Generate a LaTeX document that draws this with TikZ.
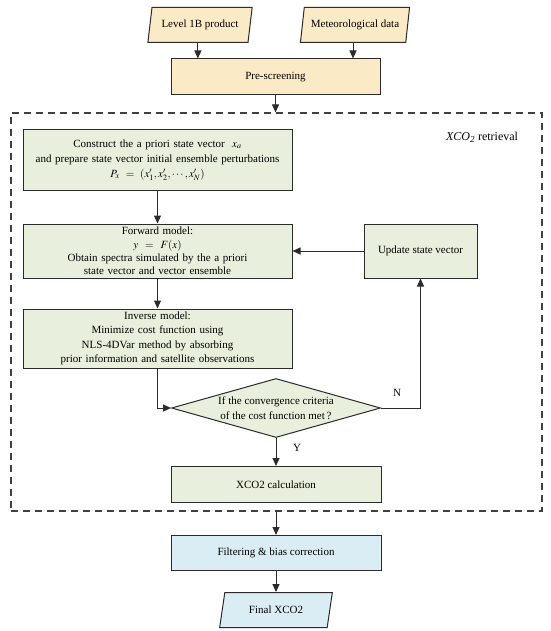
\documentclass[tikz,border=0pt]{standalone}
\usepackage{mathptmx}
\usepackage{fontspec}
\setmainfont{Liberation Serif}
\usetikzlibrary{positioning,shapes.geometric,arrows.meta}
\definecolor{boxline}{HTML}{2B2B2B}
\definecolor{inorange}{HTML}{FBEAC6}
\definecolor{procgreen}{HTML}{E8EFDC}
\definecolor{outblue}{HTML}{DBEDF4}
\begin{document}
\begin{tikzpicture}[
  x=1pt, y=1pt,
  font=\fontsize{11}{15}\selectfont,
  procbox/.style={draw=boxline, line width=1pt, fill=procgreen, align=center, inner xsep=4pt, inner ysep=1pt},
  iobox/.style={draw=boxline, line width=1pt, trapezium, trapezium left angle=76, trapezium right angle=104,
    trapezium stretches=true, minimum height=35pt, inner sep=2pt},
  decbox/.style={draw=boxline, line width=1pt, fill=procgreen, diamond, aspect=3.5, inner sep=0pt,
    minimum width=209pt, minimum height=59pt, align=center},
  lbl/.style={inner sep=1pt},
  arrow/.style={-{Triangle[length=8pt,width=7pt]}, line width=1pt, draw=boxline}
]
\useasboundingbox (0,0) rectangle (550,-631);
\node (frame) [draw=boxline!90, line width=1.2pt, dash pattern=on 7pt off 5pt,
  minimum width=531pt, minimum height=398pt, inner sep=0pt] at (276.5,-312) {};
\node (l1b) [iobox, fill=inorange, minimum width=105pt] at (200,-25) {Level 1B product};
\node (met) [iobox, fill=inorange, minimum width=110pt] at (355,-25) {Meteorological data};
\node (pre) [procbox, fill=inorange, minimum width=209pt, minimum height=36pt] at (275.5,-77) {Pre-screening};
\node (ret) [lbl, font=\fontsize{12}{14}\selectfont] at (482,-137) {\textit{XCO}\textsubscript{\textit{2}} retrieval};
\node (cons) [procbox, text width=261pt, minimum height=60pt] at (157.5,-160)
  {Construct the a priori state vector\ \ $x_a$\\ and prepare state vector initial ensemble perturbations\\ $P_x=(x'_1,x'_2,\cdots,x'_N)$};
\node (fwd) [procbox, text width=261pt, minimum height=54pt, font=\fontsize{11}{13.3}\selectfont, below=33pt of cons]
  {Forward model:\\ $y=F(x)$\\ Obtain spectra simulated by the a priori\\ state vector and vector ensemble};
\node (upd) [procbox, minimum width=113pt, minimum height=54pt, right=71pt of fwd] {Update state vector};
\node (inv) [procbox, text width=261pt, minimum height=59pt, font=\fontsize{11}{14.5}\selectfont, below=30pt of fwd]
  {Inverse model:\\ Minimize cost function using\\ NLS-4DVar method by absorbing\\ prior information and satellite observations};
\node (dia) [decbox] at (276,-408) {If the convergence criteria\\ of the cost function met\,?};
\node (calc) [procbox, minimum width=210pt, minimum height=36pt, below=28pt of dia] {XCO2 calculation};
\node (filt) [procbox, fill=outblue, minimum width=210pt, minimum height=35pt, below=32pt of calc] {Filtering \& bias correction};
\node (fin) [iobox, fill=outblue, minimum width=113pt, below=21pt of filt] {Final XCO2};
\node (nlab) [lbl] at ([xshift=16pt,yshift=15pt]dia.east) {N};
\node (ylab) [lbl] at ([xshift=21pt,yshift=-10pt]dia.south) {Y};

\draw[arrow] (l1b.bottom side) -- (l1b.bottom side |- pre.north);
\draw[arrow] (met.bottom side) -- (met.bottom side |- pre.north);
\draw[arrow] (pre.south) -- (pre.south |- frame.north);
\draw[arrow] (cons) -- (fwd);
\draw[arrow] (upd) -- (fwd);
\draw[arrow] (fwd) -- (inv);
\draw[arrow] (inv.south) |- (dia.west);
\draw[arrow] (dia.east) -| (upd.south);
\draw[arrow] (dia) -- (calc);
\draw[arrow] (filt.north |- frame.south) -- (filt.north);
\draw[arrow] (filt) -- (fin);
\end{tikzpicture}
\end{document}
